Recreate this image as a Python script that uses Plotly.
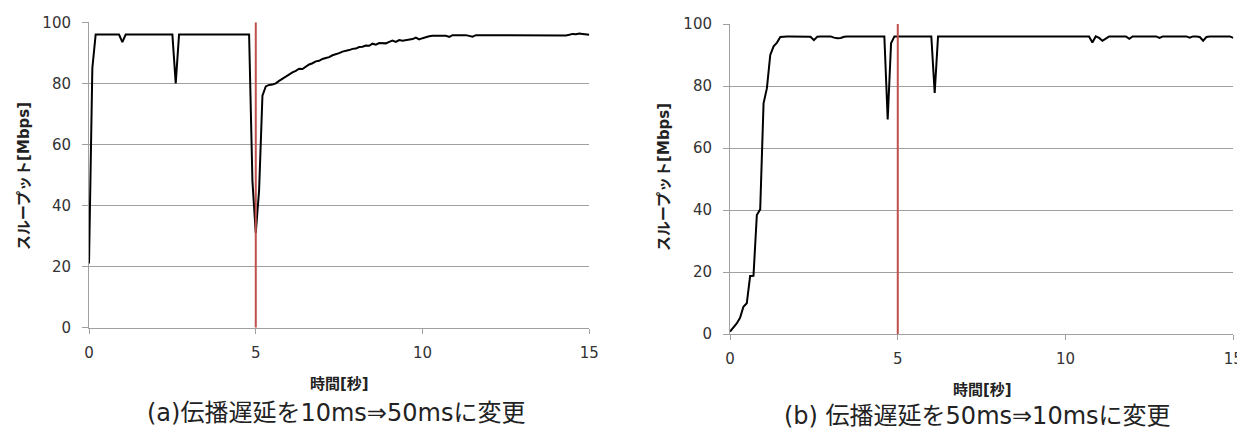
import plotly.graph_objects as go

# ---------------- data ----------------
time_s = [round(i * 0.1, 1) for i in range(151)]

throughput_a = [
    21, 85, 96, 96, 96, 96, 96, 96, 96, 96,            # 0.0-0.9
    93.5, 96, 96, 96, 96, 96, 96, 96, 96, 96,          # 1.0-1.9
    96, 96, 96, 96, 96, 96, 80, 96, 96, 96,            # 2.0-2.9
    96, 96, 96, 96, 96, 96, 96, 96, 96, 96,            # 3.0-3.9
    96, 96, 96, 96, 96, 96, 96, 96, 96, 48,            # 4.0-4.9
    31, 45, 76, 79, 79.5, 79.6, 80, 80.8, 81.5, 82.3,  # 5.0-5.9
    83, 83.6, 84.1, 84.8, 84.7, 85.5, 86.2, 86.6, 87.2, 87.4,  # 6.0-6.9
    88, 88.3, 88.6, 89.2, 89.5, 89.9, 90.4, 90.6, 90.9, 91.3,  # 7.0-7.9
    91.4, 91.9, 92, 92.4, 92.3, 93, 92.7, 93.2, 93.2, 93.1,    # 8.0-8.9
    93.6, 94, 93.6, 94.2, 94, 94.2, 94.3, 94.5, 95, 94.4,      # 9.0-9.9
    94.8, 95.2, 95.4, 95.6, 95.6, 95.5, 95.7, 95.6, 95.2, 95.8,  # 10.0-10.9
    95.8, 95.7, 95.8, 95.8, 95.6, 95.3, 95.8, 95.8, 95.7, 95.8,  # 11.0-11.9
    95.7, 95.8, 95.6, 95.8, 95.7, 95.6, 95.8, 95.7, 95.8, 95.6,  # 12.0-12.9
    95.8, 95.7, 95.8, 95.6, 95.7, 95.8, 95.7, 95.8, 95.7, 95.8,  # 13.0-13.9
    95.7, 95.8, 95.8, 95.7, 95.9, 96.2, 96.1, 96.3, 96.2, 96.0,  # 14.0-14.9
    95.9,                                                         # 15.0
]

throughput_b = [
    0.8, 2.2, 3.4, 5.2, 8.8, 9.9, 18.7, 18.8, 38.4, 40.2,   # 0.0-0.9
    74.4, 79.3, 90, 92.8, 94, 95.8, 96, 96, 96, 96,         # 1.0-1.9
    96, 96, 96, 96, 95.9, 94.8, 95.9, 96, 96, 96,           # 2.0-2.9
    96, 95.6, 95.4, 95.5, 95.9, 96, 96, 96, 96, 96,         # 3.0-3.9
    96, 96, 96, 96, 96, 96, 96, 69.2, 93.8, 96,             # 4.0-4.9
    96, 96, 96, 96, 96, 96, 96, 96, 96, 96,                 # 5.0-5.9
    96, 77.8, 96, 96, 96, 96, 96, 96, 96, 96,               # 6.0-6.9
    96, 96, 96, 96, 96, 96, 96, 96, 96, 96,                 # 7.0-7.9
    96, 96, 96, 96, 96, 96, 96, 96, 96, 96,                 # 8.0-8.9
    96, 96, 96, 96, 96, 96, 96, 96, 96, 96,                 # 9.0-9.9
    96, 96, 96, 96, 96, 96, 96, 96, 94, 96,                 # 10.0-10.9
    95.5, 94.6, 95.3, 96, 96, 96, 96, 96, 96, 95.2,         # 11.0-11.9
    96, 96, 96, 96, 96, 96, 96, 96, 95.5, 96,               # 12.0-12.9
    96, 96, 96, 96, 96, 96, 96, 95.6, 96, 96,               # 13.0-13.9
    95.8, 94.6, 95.8, 96, 96, 96, 96, 96, 96, 96,           # 14.0-14.9
    95.5,                                                   # 15.0
]

change_time = 5
x_ticks = [0, 5, 10, 15]
y_ticks = [0, 20, 40, 60, 80, 100]

y_title = "スループット[Mbps]"
x_title = "時間[秒]"
caption_a = "(a)伝播遅延を10ms⇒50msに変更"
caption_b = "(b) 伝播遅延を50ms⇒10msに変更"

# ---------------- layout helpers ----------------
W, H = 1245, 428
OFF = 8  # page body margin shifts the figure by this many pixels
FONT = "DejaVu Sans, Noto Sans CJK JP, sans-serif"
GRAY = "#a0a0a0"
RED = "#C0504D"


def px(x):
    return (x - OFF) / W


def py(y):
    return 1 - (y - OFF) / H


fig = go.Figure()

fig.add_trace(go.Scatter(x=time_s, y=throughput_a, mode="lines",
                         line=dict(color="black", width=2), xaxis="x", yaxis="y",
                         showlegend=False))
fig.add_trace(go.Scatter(x=time_s, y=throughput_b, mode="lines",
                         line=dict(color="black", width=2), xaxis="x2", yaxis="y2",
                         showlegend=False))

for xr, yr in (("x", "y"), ("x2", "y2")):
    fig.add_shape(type="line", xref=xr, yref=yr, x0=change_time, x1=change_time,
                  y0=y_ticks[0], y1=y_ticks[-1], line=dict(color=RED, width=2),
                  layer="above")

xaxis_common = dict(range=[x_ticks[0], x_ticks[-1]], tickvals=x_ticks, showgrid=False,
                    showline=True, linecolor=GRAY, linewidth=1, ticks="outside",
                    ticklen=5, tickcolor=GRAY, zeroline=False, automargin=False,
                    tickfont=dict(family=FONT, size=15, color="#333333"),
                    ticklabelstandoff=6)
yaxis_common = dict(range=[y_ticks[0], y_ticks[-1]], tickvals=y_ticks, showgrid=True,
                    gridcolor=GRAY, gridwidth=1, showline=True, linecolor=GRAY,
                    linewidth=1, ticks="outside", ticklen=6, tickcolor=GRAY,
                    zeroline=False, automargin=False,
                    tickfont=dict(family=FONT, size=15, color="#333333"),
                    ticklabelstandoff=8)

fig.update_layout(
    width=W, height=H, autosize=False,
    margin=dict(l=0, r=0, t=0, b=0, pad=0, autoexpand=False),
    paper_bgcolor="white", plot_bgcolor="white",
    font=dict(family=FONT, color="#333333"),
    xaxis=dict(domain=[px(89), px(589.3)], anchor="y", **xaxis_common),
    yaxis=dict(domain=[py(327.7), py(22.3)], anchor="x", **yaxis_common),
    xaxis2=dict(domain=[px(730), px(1233.3)], anchor="y2", **xaxis_common),
    yaxis2=dict(domain=[py(334), py(24)], anchor="x2", **yaxis_common),
)

annots = [
    dict(text="<b>" + y_title + "</b>", x=px(24), y=py(176), textangle=-90,
         font=dict(family=FONT, size=15, color="#222222")),
    dict(text="<b>" + y_title + "</b>", x=px(664), y=py(177), textangle=-90,
         font=dict(family=FONT, size=15, color="#222222")),
    dict(text="<b>" + x_title + "</b>", x=px(339), y=py(384),
         font=dict(family=FONT, size=15, color="#222222")),
    dict(text="<b>" + x_title + "</b>", x=px(982), y=py(390),
         font=dict(family=FONT, size=15, color="#222222")),
    dict(text=caption_a, x=px(336), y=py(413),
         font=dict(family=FONT, size=24, color="#222222")),
    dict(text=caption_b, x=px(977), y=py(416),
         font=dict(family=FONT, size=24, color="#222222")),
]
for a in annots:
    fig.add_annotation(xref="paper", yref="paper", showarrow=False,
                       xanchor="center", yanchor="middle", **a)

fig.write_html("out.html")
